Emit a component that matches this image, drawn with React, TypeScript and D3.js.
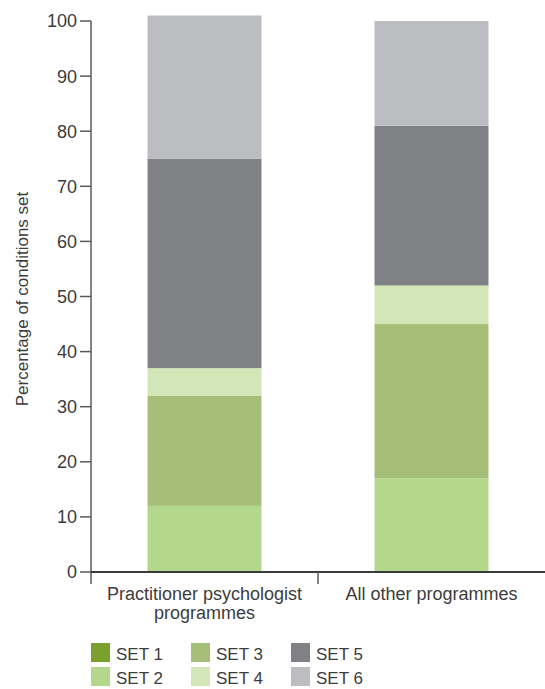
import React from "react";
import * as d3 from "d3";

const categories = ["Practitioner psychologist\nprogrammes", "All other programmes"];
const seriesNames = ["SET 1", "SET 2", "SET 3", "SET 4", "SET 5", "SET 6"];
const set1 = [0, 0];
const set2 = [12, 17];
const set3 = [20, 28];
const set4 = [5, 7];
const set5 = [38, 29];
const set6 = [26, 19];
const yTicks = [0, 10, 20, 30, 40, 50, 60, 70, 80, 90, 100];
const colors = ["#7aa02e", "#b3d88c", "#a6bf78", "#d2e6b8", "#808184", "#bcbdc1"];

const W = 545;
const H = 689;
const M = { left: 91, right: 0, top: 21, bottom: 117 };

export default function App() {
  const allSets = [set1, set2, set3, set4, set5, set6];
  const rows = categories.map((c, i) => {
    const r: any = { cat: c };
    seriesNames.forEach((s, j) => (r[s] = allSets[j][i]));
    return r;
  });
  const stacked = d3.stack().keys(seriesNames)(rows);
  const x = d3.scaleBand().domain(categories).range([M.left, W - M.right]).paddingInner(0).paddingOuter(0);
  const y = d3.scaleLinear().domain([0, 100]).range([H - M.bottom, M.top]);
  const y0 = y(0);
  const barW = x.bandwidth() * 0.502;
  const font = "'Liberation Sans', Arial, sans-serif";
  const textColor = "#3c3c3c";
  const axisColor = "#5a5a5a";

  return (
    <svg width={W} height={H} style={{ position: "absolute", left: 0, top: 0 }} fontFamily={font}>
      {stacked.map((layer, li) =>
        layer.map((d, i) => {
          const cx = (x(categories[i]) as number) + x.bandwidth() / 2;
          const h = y(d[0]) - y(d[1]);
          if (h <= 0) return null;
          return (
            <rect key={`${li}-${i}`} x={cx - barW / 2} y={y(d[1])} width={barW} height={h} fill={colors[li]} />
          );
        })
      )}
      {/* y axis */}
      <line x1={M.left} x2={M.left} y1={M.top} y2={y0 + 12} stroke={axisColor} strokeWidth={1.5} />
      {yTicks.map((t) => (
        <g key={t}>
          <line x1={M.left - 11} x2={M.left} y1={y(t)} y2={y(t)} stroke={axisColor} strokeWidth={1.5} />
          <text x={M.left - 14} y={y(t)} dy="0.36em" textAnchor="end" fontSize={18} fill={textColor}>
            {t}
          </text>
        </g>
      ))}
      {/* x axis */}
      <line x1={M.left} x2={W - M.right} y1={y0} y2={y0} stroke="#3a3a3a" strokeWidth={2} />
      {categories.slice(1).map((c) => (
        <line key={c} x1={x(c) as number} x2={x(c) as number} y1={y0} y2={y0 + 12} stroke={axisColor} strokeWidth={1.5} />
      ))}
      {categories.map((c) => {
        const cx = (x(c) as number) + x.bandwidth() / 2;
        return (
          <text key={c} x={cx} y={y0 + 28} textAnchor="middle" fontSize={18} fill={textColor}>
            {c.split("\n").map((line, k) => (
              <tspan key={k} x={cx} dy={k === 0 ? 0 : 19}>
                {line}
              </tspan>
            ))}
          </text>
        );
      })}
      <text
        transform={`translate(28, 299) rotate(-90)`}
        textAnchor="middle"
        fontSize={17}
        fill={textColor}
      >
        Percentage of conditions set
      </text>
      {/* legend */}
      {seriesNames.map((s, i) => {
        const col = Math.floor(i / 2);
        const row = i % 2;
        const lx = 91 + col * 100;
        const ly = 643 + row * 24;
        return (
          <g key={s}>
            <rect x={lx} y={ly} width={19} height={19} fill={colors[i]} />
            <text x={lx + 25} y={ly + 17} fontSize={17} fill={textColor}>
              {s}
            </text>
          </g>
        );
      })}
    </svg>
  );
}
